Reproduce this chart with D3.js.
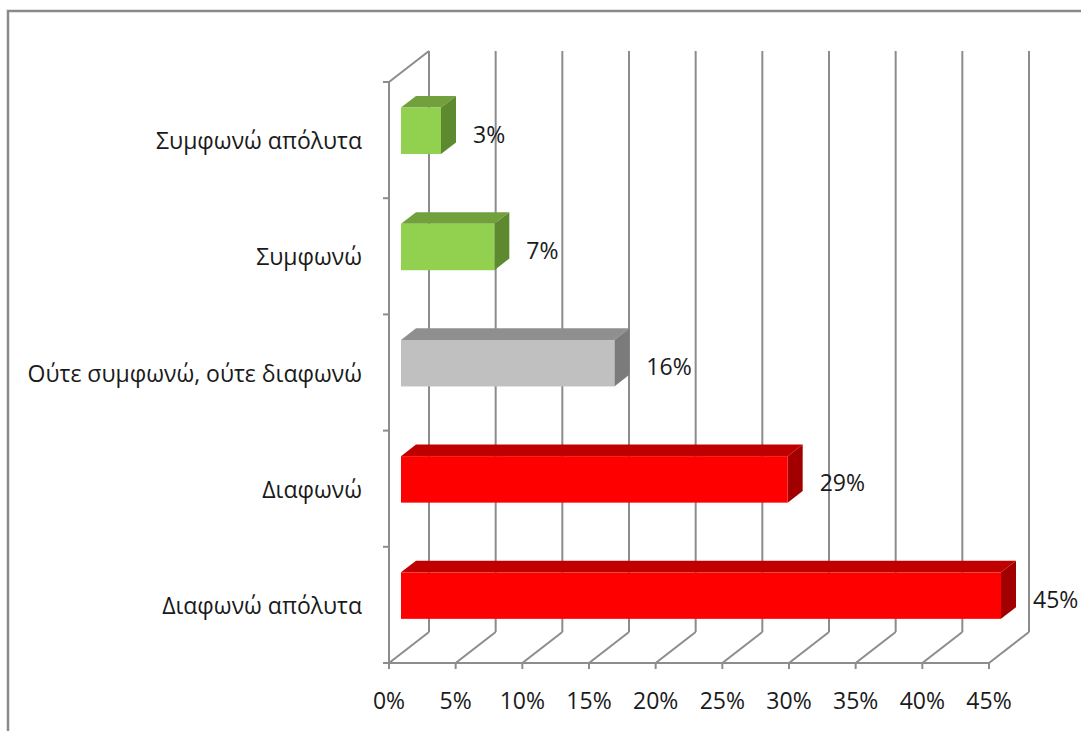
<!DOCTYPE html>
<html>
<head>
<meta charset="utf-8">
<script src="https://cdn.jsdelivr.net/npm/d3@7"></script>
<style>
  html, body { margin: 0; padding: 0; background: #ffffff; }
  svg { display: block; }
  text { font-family: "Open Sans", "Noto Sans", sans-serif; fill: #1a1a1a; }
</style>
</head>
<body>
<svg id="chart" width="1081" height="731"></svg>
<script>
// Survey responses, top to bottom
const categories = [
  "Συμφωνώ απόλυτα",
  "Συμφωνώ",
  "Ούτε συμφωνώ, ούτε διαφωνώ",
  "Διαφωνώ",
  "Διαφωνώ απόλυτα"
];
const values = [3, 7, 16, 29, 45];
const tickValues = [0, 5, 10, 15, 20, 25, 30, 35, 40, 45];
const tickLabels = ["0%", "5%", "10%", "15%", "20%", "25%", "30%", "35%", "40%", "45%"];

// face colours per response: [front, top, side]
const palette = {
  agree:   ["#92d050", "#71a03c", "#5e8a2f"],
  neutral: ["#c0c0c0", "#8f8f8f", "#7b7b7b"],
  disagree:["#ff0000", "#c00000", "#a20000"]
};
const barColors = [palette.agree, palette.agree, palette.neutral, palette.disagree, palette.disagree];

const svg = d3.select("#chart");

// chart area border (top and left edges)
svg.append("path")
  .attr("d", "M8,731 L8,11 L1081,11")
  .attr("fill", "none")
  .attr("stroke", "#8a8a8a")
  .attr("stroke-width", 2.5);

// front plane of the 3D plot box
const x = d3.scaleLinear().domain([0, 45]).range([389, 989]);
const y = d3.scaleBand().domain(categories).range([82, 663]).paddingInner(0).paddingOuter(0);
const depth = { dx: 40, dy: -31 };   // offset from front plane to back wall
const barDepth = [0.3, 0.675];       // bar occupies this slice of the depth
const barFrac = 0.4;                 // bar thickness as share of band

const gridColor = "#8c8c8c";
const grid = svg.append("g").attr("stroke", gridColor).attr("stroke-width", 2).attr("fill", "none");

// back wall vertical gridlines
grid.selectAll("line.wall").data(tickValues).join("line")
  .attr("class", "wall")
  .attr("x1", d => x(d) + depth.dx).attr("x2", d => x(d) + depth.dx)
  .attr("y1", y.range()[0] + depth.dy).attr("y2", y.range()[1] + depth.dy);

// floor diagonals
grid.selectAll("line.floor").data(tickValues).join("line")
  .attr("class", "floor")
  .attr("x1", d => x(d)).attr("y1", y.range()[1])
  .attr("x2", d => x(d) + depth.dx).attr("y2", y.range()[1] + depth.dy);

// side wall outline: front edge and top edge
grid.append("line")
  .attr("x1", x(0)).attr("x2", x(0))
  .attr("y1", y.range()[0]).attr("y2", y.range()[1]);
grid.append("line")
  .attr("x1", x(0)).attr("y1", y.range()[0])
  .attr("x2", x(0) + depth.dx).attr("y2", y.range()[0] + depth.dy);

// category axis ticks at band boundaries
const bounds = categories.map(c => y(c)).concat([y.range()[1]]);
grid.selectAll("line.ctick").data(bounds).join("line")
  .attr("class", "ctick")
  .attr("x1", x(0) - 6).attr("x2", x(0))
  .attr("y1", d => d).attr("y2", d => d);

// value axis: baseline and ticks
grid.append("line")
  .attr("x1", x(0)).attr("x2", x(45))
  .attr("y1", y.range()[1]).attr("y2", y.range()[1]);
grid.selectAll("line.vtick").data(tickValues).join("line")
  .attr("class", "vtick")
  .attr("x1", d => x(d)).attr("x2", d => x(d))
  .attr("y1", y.range()[1]).attr("y2", y.range()[1] + 6);

// value tick labels
svg.append("g").selectAll("text").data(tickValues).join("text")
  .attr("x", d => x(d))
  .attr("y", 700)
  .attr("text-anchor", "middle")
  .attr("dominant-baseline", "central")
  .style("font-size", "23px")
  .text((d, i) => tickLabels[i]);

// category labels
svg.append("g").selectAll("text").data(categories).join("text")
  .attr("x", 362)
  .attr("y", d => y(d) + y.bandwidth() / 2)
  .attr("text-anchor", "end")
  .attr("dominant-baseline", "central")
  .style("font-size", "23px")
  .text(d => d);

// 3D bars
const bars = categories.map((c, i) => {
  const h = y.bandwidth() * barFrac;
  const ox = barDepth[0] * depth.dx, oy = barDepth[0] * depth.dy;
  const tx = (barDepth[1] - barDepth[0]) * depth.dx, ty = (barDepth[1] - barDepth[0]) * depth.dy;
  const x0 = x(0) + ox, x1 = x(values[i]) + ox;
  const y0 = y(c) + y.bandwidth() / 2 - h / 2 + oy, y1 = y0 + h;
  return { c, v: values[i], col: barColors[i], x0, x1, y0, y1, tx, ty };
});

const barG = svg.append("g").selectAll("g").data(bars).join("g");
barG.append("path") // top face
  .attr("d", b => `M${b.x0},${b.y0}L${b.x1},${b.y0}L${b.x1 + b.tx},${b.y0 + b.ty}L${b.x0 + b.tx},${b.y0 + b.ty}Z`)
  .attr("fill", b => b.col[1]);
barG.append("path") // side face
  .attr("d", b => `M${b.x1},${b.y0}L${b.x1 + b.tx},${b.y0 + b.ty}L${b.x1 + b.tx},${b.y1 + b.ty}L${b.x1},${b.y1}Z`)
  .attr("fill", b => b.col[2]);
barG.append("rect") // front face
  .attr("x", b => b.x0).attr("y", b => b.y0)
  .attr("width", b => b.x1 - b.x0).attr("height", b => b.y1 - b.y0)
  .attr("fill", b => b.col[0]);

// value labels
barG.append("text")
  .attr("x", b => b.x1 + b.tx + 17)
  .attr("y", b => (b.y0 + b.y1) / 2 + 3)
  .attr("dominant-baseline", "central")
  .style("font-size", "23px")
  .text(b => b.v + "%");
</script>
</body>
</html>
